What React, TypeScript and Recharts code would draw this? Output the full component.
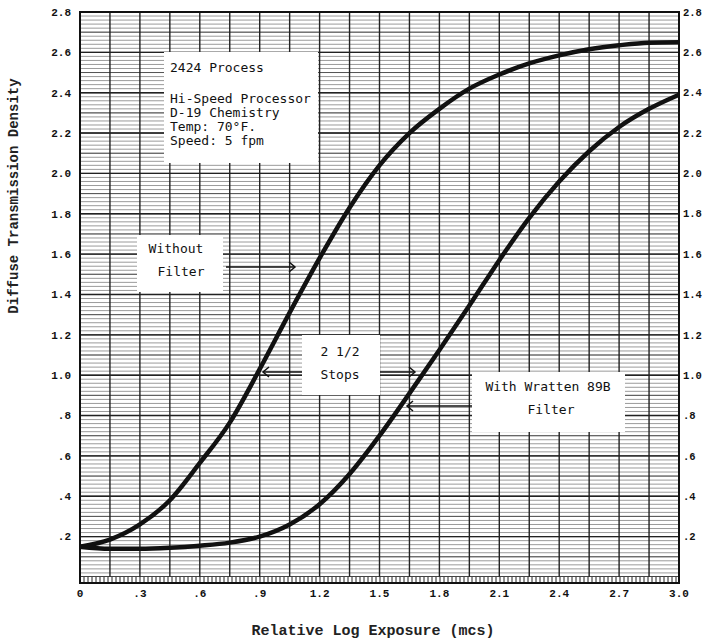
import { LineChart, Line, XAxis, YAxis, CartesianGrid, ReferenceArea, Customized } from 'recharts'

// relative log exposure (mcs) sampled every 0.15
const exposure = [0, 0.15, 0.3, 0.45, 0.6, 0.75, 0.9, 1.05, 1.2, 1.35, 1.5, 1.65, 1.8, 1.95, 2.1, 2.25, 2.4, 2.55, 2.7, 2.85, 3.0]
// density without filter
const withoutFilter = [0.15, 0.185, 0.26, 0.38, 0.565, 0.765, 1.03, 1.31, 1.58, 1.83, 2.04, 2.2, 2.32, 2.42, 2.49, 2.545, 2.585, 2.615, 2.635, 2.648, 2.65]
// density with Wratten 89B filter
const wratten89B = [0.15, 0.14, 0.14, 0.145, 0.155, 0.17, 0.2, 0.26, 0.36, 0.51, 0.7, 0.91, 1.125, 1.345, 1.57, 1.78, 1.96, 2.11, 2.23, 2.32, 2.39]

const xTicks = [0, 0.3, 0.6, 0.9, 1.2, 1.5, 1.8, 2.1, 2.4, 2.7, 3.0]
const yTicks = [0.2, 0.4, 0.6, 0.8, 1.0, 1.2, 1.4, 1.6, 1.8, 2.0, 2.2, 2.4, 2.6, 2.8]

const data = exposure.map((x, i) => ({ x, without: withoutFilter[i], wratten: wratten89B[i] }))

// graph paper rulings
const fineRows = Array.from({ length: 141 }, (_, i) => +(i * 0.02).toFixed(2))
const midRows = Array.from({ length: 29 }, (_, i) => +(i * 0.1).toFixed(1))
const majorRows = Array.from({ length: 15 }, (_, i) => +(i * 0.2).toFixed(1))
const columns = Array.from({ length: 21 }, (_, i) => +(i * 0.15).toFixed(2))

const fmt = (v: number) => {
  if (v === 0) return '0'
  const s = v.toFixed(1)
  return s.startsWith('0.') ? s.slice(1) : s
}

const tickStyle = { fontFamily: 'Liberation Mono', fontWeight: 'bold' as const, fontSize: 11, fill: '#111' }
const boxFont = { fontFamily: 'DejaVu Sans Mono', fontSize: 13, fill: '#111' }

const Hatch = (props: any) => {
  const { x, y, width, height } = props
  const lines = []
  for (let px = x; px <= x + width; px += 4) {
    lines.push(<line key={px} x1={px} x2={px} y1={y} y2={y + height} stroke="#222" strokeWidth={1} />)
  }
  return (
    <g>
      <rect x={x} y={y} width={width} height={height} fill="#fff" />
      {lines}
    </g>
  )
}

const Notes = () => (
  <g>
    <text x={14} y={196} transform="rotate(-90, 14, 196)" textAnchor="middle" dominantBaseline="central"
      style={{ fontFamily: 'Liberation Mono', fontWeight: 'bold', fontSize: 14, fill: '#222' }}>
      Diffuse Transmission Density
    </text>
    <text x={373} y={631} textAnchor="middle" dominantBaseline="central"
      style={{ fontFamily: 'Liberation Mono', fontWeight: 'bold', fontSize: 15, fill: '#222' }}>
      Relative Log Exposure (mcs)
    </text>

    <rect x={164} y={52} width={154} height={111} fill="#fff" />
    <text x={170} y={72} style={boxFont}>2424 Process</text>
    <text x={170} y={103} style={boxFont}>Hi-Speed Processor</text>
    <text x={170} y={117} style={boxFont}>D-19 Chemistry</text>
    <text x={170} y={131} style={boxFont}>Temp: 70°F.</text>
    <text x={170} y={145} style={boxFont}>Speed: 5 fpm</text>

    <rect x={137} y={235} width={86} height={57} fill="#fff" />
    <text x={176} y={253} textAnchor="middle" style={boxFont}>Without</text>
    <text x={181} y={276} textAnchor="middle" style={boxFont}>Filter</text>
    <line x1={226} y1={267} x2={295} y2={267} stroke="#111" strokeWidth={1.5} />
    <polyline points="289,262 295,267 289,272" fill="none" stroke="#111" strokeWidth={1.5} />

    <rect x={302} y={335} width={78} height={60} fill="#fff" />
    <text x={340} y={356} textAnchor="middle" style={boxFont}>2 1/2</text>
    <text x={340} y={379} textAnchor="middle" style={boxFont}>Stops</text>
    <line x1={302} y1={372} x2={263} y2={372} stroke="#111" strokeWidth={1.5} />
    <polyline points="269,367 263,372 269,377" fill="none" stroke="#111" strokeWidth={1.5} />
    <line x1={380} y1={372} x2={415} y2={372} stroke="#111" strokeWidth={1.5} />
    <polyline points="409,367 415,372 409,377" fill="none" stroke="#111" strokeWidth={1.5} />

    <rect x={472} y={372} width={153} height={60} fill="#fff" />
    <text x={548} y={391} textAnchor="middle" style={boxFont}>With Wratten 89B</text>
    <text x={551} y={414} textAnchor="middle" style={boxFont}>Filter</text>
    <line x1={472} y1={406} x2={407} y2={406} stroke="#111" strokeWidth={1.5} />
    <polyline points="413,401 407,406 413,411" fill="none" stroke="#111" strokeWidth={1.5} />
  </g>
)

const App = () => {
  return (
    <div style={{ position: 'absolute', left: 0, top: 0, background: '#fff' }}>
      <LineChart width={703} height={639} data={data} margin={{ top: 12, right: 0, bottom: 0, left: 0 }}>
        <CartesianGrid horizontal={true} vertical={false} horizontalValues={fineRows} stroke="#8f8f8f" strokeWidth={0.9} />
        <CartesianGrid horizontal={true} vertical={false} horizontalValues={midRows} stroke="#555" strokeWidth={1} />
        <CartesianGrid horizontal={true} vertical={false} horizontalValues={majorRows} stroke="#222" strokeWidth={1.4} />
        <CartesianGrid horizontal={false} vertical={true} verticalValues={columns} stroke="#222" strokeWidth={1.4} />
        <XAxis type="number" dataKey="x" domain={[0, 3]} ticks={xTicks} interval={0} tickFormatter={fmt}
          axisLine={false} tickLine={false} tickSize={0} tickMargin={6} height={56} tick={tickStyle} />
        <YAxis type="number" domain={[-0.03, 2.8]} ticks={yTicks} interval={0} tickFormatter={fmt} allowDataOverflow
          axisLine={false} tickLine={false} tickSize={0} tickMargin={9} width={80} tick={tickStyle} />
        <YAxis yAxisId="r" orientation="right" type="number" domain={[-0.03, 2.8]} ticks={yTicks} interval={0}
          tickFormatter={fmt} allowDataOverflow axisLine={false} tickLine={false} tickSize={0} tickMargin={4}
          width={24} tick={{ ...tickStyle, fontSize: 10.5, textAnchor: 'start' }} />
        <ReferenceArea x1={0} x2={3} y1={-0.03} y2={0} shape={<Hatch />} />
        <ReferenceArea x1={0} x2={3} y1={-0.03} y2={2.8} fill="none" fillOpacity={0} stroke="#111" strokeWidth={2} />
        <Line type="monotone" dataKey="without" stroke="#111" strokeWidth={4.5} dot={false} isAnimationActive={false} />
        <Line type="monotone" dataKey="wratten" stroke="#111" strokeWidth={4.5} dot={false} isAnimationActive={false} />
        <Customized component={Notes} />
      </LineChart>
    </div>
  )
}

export default App
